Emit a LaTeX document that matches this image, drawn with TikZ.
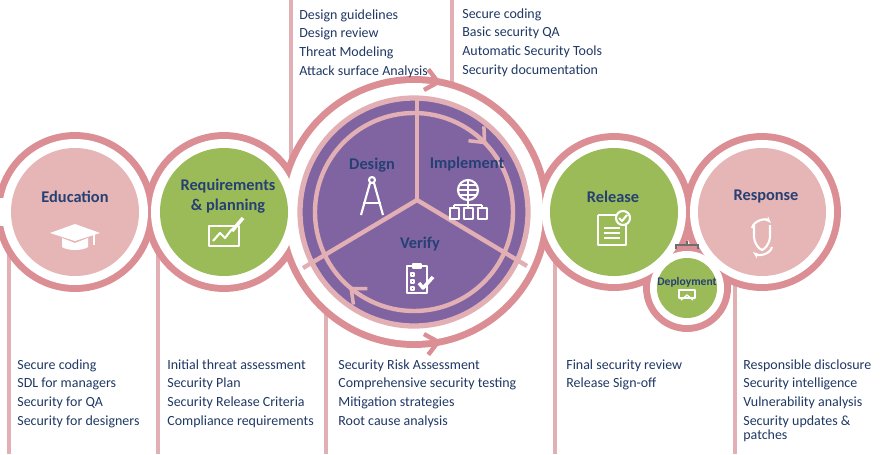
\documentclass[tikz,border=0pt]{standalone}
\usepackage{fontspec}
\setmainfont{Carlito}
\usetikzlibrary{arrows.meta}
\definecolor{ring_pink}{RGB}{219,143,148}
\definecolor{line_pink}{RGB}{226,176,180}
\definecolor{node_pink}{RGB}{230,181,181}
\definecolor{node_green}{RGB}{155,187,89}
\definecolor{node_purple}{RGB}{128,100,162}
\definecolor{text_blue}{RGB}{31,56,100}
\definecolor{title_blue}{RGB}{38,64,116}
\definecolor{mark_gray}{RGB}{110,110,110}

\begin{document}
\begin{tikzpicture}[x=0.02cm,y=-0.02cm]
    \tikzstyle{ring}=[draw=ring_pink, line width=4.5]
    \tikzstyle{hole}=[fill=white]
    \tikzstyle{stage}=[text=title_blue, font=\bfseries\fontsize{9.3}{11}\selectfont, align=center]
    \tikzstyle{items}=[text=text_blue, font=\fontsize{7.95}{10.75}\selectfont, align=left, anchor=north west, inner sep=0]
    \tikzstyle{stem}=[draw=line_pink, line width=2.2]
    \tikzstyle{icon}=[draw=white, line width=1.2, line join=round]
    \tikzstyle{cycle}=[draw=line_pink, line width=2.5]
    \useasboundingbox (0,0) rectangle (882,454);

    % stems to the lists
    \draw[stem] (9,212) -- (9,454);
    \draw[stem] (158,212) -- (158,454);
    \draw[stem] (291,0) -- (291,212);
    \draw[stem] (326,212) -- (326,454);
    \draw[stem] (452,0) -- (452,150);
    \draw[stem] (555,212) -- (555,454);
    \draw[stem] (735,280) -- (735,454);

    % outer band
    \foreach \cx/\cy/\r in {75/212/76, 224/212/76, 414/212/132, 614/212/75, 762/212/75, 687/288/40}
        \draw[ring] (\cx,\cy) circle[radius=\r];
    \foreach \cx/\cy/\r in {75/212/73, 224/212/73, 414/212/129, 614/212/72, 762/212/72, 687/288/37}
        \fill[hole] (\cx,\cy) circle[radius=\r];
    \fill[white] (-2,198) rectangle (14,226);

    % stage discs
    \fill[node_pink] (75,212) circle[radius=64] coordinate (edu);
    \fill[node_green] (224,212) circle[radius=64] coordinate (req);
    \fill[node_green] (614,212) circle[radius=64] coordinate (rel);
    \fill[node_pink] (762,212) circle[radius=64] coordinate (resp);
    \fill[node_green] (687,288) circle[radius=30] coordinate (dep);
    \fill[node_purple, draw=line_pink, line width=3] (414,212) circle[radius=114];
    \draw[cycle] (414,212) circle[radius=99];
    \coordinate (hub) at (417,200);
    \draw[cycle] (hub) -- (417,98);
    \draw[cycle] (hub) -- (303,268);
    \draw[cycle] (hub) -- (527,266);

    % arrow heads on the rings
    \draw[ring_pink, line width=2.5, -{Straight Barb[length=7,width=12]}] (414,212) ++(265:132) arc[start angle=265, end angle=282, radius=132];
    \draw[ring_pink, line width=2.5, -{Straight Barb[length=7,width=12]}] (414,212) ++(95:132) arc[start angle=95, end angle=78, radius=132];
    \draw[line_pink, line width=2, -{Straight Barb[length=7,width=12]}] (414,212) ++(300:99) arc[start angle=300, end angle=317, radius=99];
    \draw[line_pink, line width=2, -{Straight Barb[length=7,width=12]}] (414,212) ++(114:99) arc[start angle=114, end angle=131, radius=99];

    % titles
    \node[stage] (edut) at (75,197) {Education};
    \node[stage] (reqt) at (228,196) {Requirements\\\& planning};
    \node[stage] (dest) at (372,165) {Design};
    \node[stage] (impt) at (467,164) {Implement};
    \node[stage] (vert) at (420,244) {Verify};
    \node[stage] (relt) at (613,197) {Release};
    \node[stage] (respt) at (766,196) {Response};
    \node[stage, font=\bfseries\fontsize{6.6}{8}\selectfont] (dept) at (687,282) {Deployment};

    % icons
    \fill[white] (50,233) -- (75,224) -- (100,233) -- (75,241) -- cycle;
    \fill[white] (62,238) -- (62,247) .. controls (68,251) and (82,251) .. (88,247) -- (88,238) -- (75,243) -- cycle;
    \draw[icon] (94,234) -- (94,245);
    \draw[icon] (209,226) rectangle (239,246);
    \draw[icon] (213,241) -- (220,233) -- (225,238) -- (232,229);
    \draw[icon, line width=2] (232,231) -- (243,218);
    \draw[icon] (372,180) circle[radius=3];
    \draw[icon] (370,183) -- (361,215);
    \draw[icon] (374,183) -- (383,215);
    \draw[icon] (363,203) -- (381,203);
    \draw[icon] (468,190) circle[radius=10];
    \draw[icon] (458,190) -- (478,190) (468,180) -- (468,200) (460,185) -- (476,185) (460,195) -- (476,195);
    \draw[icon] (468,200) -- (468,205) (454,205) -- (482,205) (454,205) -- (454,208) (468,205) -- (468,208) (482,205) -- (482,208);
    \foreach \dx in {450,464,478}
        \draw[icon] (\dx,208) rectangle ++(9,11);
    \draw[icon] (407,266) rectangle (427,293);
    \draw[icon] (413,264) rectangle (421,268);
    \foreach \dy in {273,280,287}
        \draw[icon] (411,\dy) rectangle ++(3,3);
    \draw[icon, line width=2] (419,283) -- (423,288) -- (433,277);
    \draw[icon] (598,215) -- (598,245) -- (626,245) -- (626,222);
    \draw[icon] (598,215) -- (618,215);
    \foreach \dy in {228,233,238}
        \draw[icon] (604,\dy) -- (620,\dy);
    \draw[icon, fill=node_green] (623,218) circle[radius=7];
    \draw[icon] (619,218) -- (622,221) -- (627,215);
    \draw[icon] (754,225) -- (754,237) .. controls (755,246) and (760,249) .. (762,250) .. controls (764,249) and (769,246) .. (770,237) -- (770,225);
    \draw[icon, -{Stealth[length=4]}] (752,228) .. controls (754,220) and (766,218) .. (771,223);
    \draw[icon, -{Stealth[length=4]}] (772,247) .. controls (770,255) and (758,256) .. (753,252);
    \draw[icon, line width=0.8] (679,290) -- (679,298) -- (695,298) -- (695,290) -- cycle;
    \draw[icon, line width=0.8] (681,300) -- (687,295) -- (693,300);

    % deployment bracket
    \draw[mark_gray, line width=1.2] (676,249) -- (676,245) -- (698,245) -- (698,249) (687,245) -- (687,241);

    % lists
    \node[items] (desl) at (299,9) {Design guidelines\\Design review\\Threat Modeling\\Attack surface Analysis};
    \node[items] (impl) at (462,8) {Secure coding\\Basic security QA\\Automatic Security Tools\\Security documentation};
    \node[items] (edul) at (17,359) {Secure coding\\SDL for managers\\Security for QA\\Security for designers};
    \node[items] (reql) at (167,359) {Initial threat assessment\\Security Plan\\Security Release Criteria\\Compliance requirements};
    \node[items] (verl) at (338,359) {Security Risk Assessment\\Comprehensive security testing\\Mitigation strategies\\Root cause analysis};
    \node[items] (rell) at (566,359) {Final security review\\Release Sign-off};
    \node[items] (respl) at (743,359) {Responsible disclosure\\Security intelligence\\Vulnerability analysis\\Security updates \&\\[-3pt]patches};
\end{tikzpicture}
\end{document}
